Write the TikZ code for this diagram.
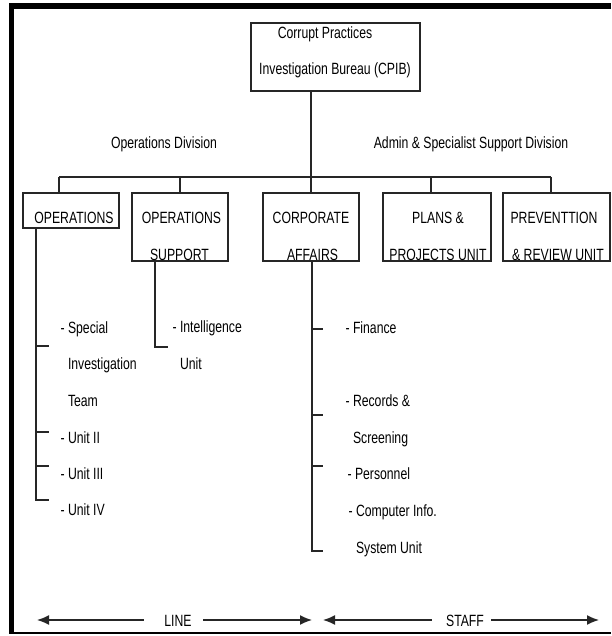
\documentclass[tikz,border=0pt]{standalone}
\usepackage{fontspec}
\setmainfont{Liberation Sans}[FakeStretch=0.75]
\usetikzlibrary{arrows.meta,positioning}

\tikzset{
  orgbox/.style={draw, inner sep=0pt},
  txt/.style={anchor=base, inner sep=0pt, font=\fontsize{16.3}{19}\selectfont},
  item/.style={anchor=base west, inner sep=0pt, align=left,
    font=\fontsize{16.3}{36.5}\selectfont},
  span/.style={line width=1.5pt, -{Latex[length=12pt,width=10pt]}}
}

\begin{document}
\begin{tikzpicture}[x=1pt, y=-1pt, line width=1.1pt, draw=black!85]
            \useasboundingbox (0,0) rectangle (611,636);

            % Frame
            \fill (9,3) rectangle (611,9);
            \fill (9,3) rectangle (14,634);
            \fill (9,632) rectangle (611,634);

            % Boxes
            \node[orgbox, minimum width=169pt, minimum height=68pt] (cpib) at (335.5,57) {};
            \node[orgbox, minimum width=96pt, minimum height=35pt] (ops) at (71,210.5) {};
            \node[orgbox, minimum width=96pt, minimum height=68pt] (opsup) at (180,227) {};
            \node[orgbox, minimum width=96pt, minimum height=68pt] (corp) at (311,227) {};
            \node[orgbox, minimum width=108pt, minimum height=68pt] (plans) at (437,227) {};
            \node[orgbox, minimum width=107pt, minimum height=68pt] (prev) at (556.5,227) {};

            % Box texts
            \node[txt] (cpibA) at (325,39) {Corrupt Practices};
            \node[txt] (cpibB) at (335,75) {Investigation Bureau (CPIB)};
            \node[txt] (opsA) at (74,223) {OPERATIONS};
            \node[txt] (opsupA) at (181.5,223) {OPERATIONS};
            \node[txt] (opsupB) at (179.5,260) {SUPPORT};
            \node[txt] (corpA) at (311,223) {CORPORATE};
            \node[txt] (corpB) at (312.5,260) {AFFAIRS};
            \node[txt] (plansA) at (438,223) {PLANS \&};
            \node[txt] (plansB) at (438,260) {PROJECTS UNIT};
            \node[txt] (prevA) at (554,223) {PREVENTTION};
            \node[txt] (prevB) at (558,260) {\& REVIEW UNIT};

            % Division labels
            \node[txt] (opdiv) at (164,149) {Operations Division};
            \node[txt] (addiv) at (471,149) {Admin \& Specialist Support Division};

            % Sub units (base = last line)
            \node[item] (sit) at (60,406) {- Special\\\hphantom{- }Investigation\\\hphantom{- }Team};
            \node[item] (u2) at (60,443) {- Unit II};
            \node[item] (u3) at (60,479) {- Unit III};
            \node[item] (u4) at (60,515) {- Unit IV};
            \node[item] (intel) at (172,369) {- Intelligence\\\hphantom{- }Unit};
            \node[item] (fin) at (345,333) {- Finance};
            \node[item] (rec) at (345,443) {- Records \&\\\hphantom{- }Screening};
            \node[item] (pers) at (347,479) {- Personnel};
            \node[item] (comp) at (348,553) {- Computer Info.\\\hphantom{- }System Unit};

            % Edges
            \coordinate (barL) at (59,177);
            \coordinate (barR) at (551,177);
            \coordinate (plansT) at (431,177);
            \draw (cpib.south -| corp.north) -- (corp.north);
            \draw (barL) -- (barR);
            \draw (barL) -- (barL |- ops.north);
            \draw (opsup.north |- barL) -- (opsup.north);
            \draw (plansT) -- (plansT |- plans.north);
            \draw (barR) -- (barR |- prev.north);

            % Branches
            \coordinate (opsEnd) at (36,500);
            \coordinate (intelEnd) at (155,347);
            \coordinate (corpEnd) at (312,551);
            \draw (opsEnd |- ops.south) -- (opsEnd) -- ++(13,0);
            \foreach \y in {346,432,466}
              \draw (36,\y) -- ++(13,0);
            \draw (intelEnd |- opsup.south) -- (intelEnd) -- ++(13,0);
            \draw (corpEnd |- corp.south) -- (corpEnd) -- ++(11,0);
            \foreach \y in {329,415,466}
              \draw (312,\y) -- ++(11,0);

            % Line and staff
            \node[txt] (lineLbl) at (178,626) {LINE};
            \node[txt] (staffLbl) at (465,626) {STAFF};
            \coordinate (lineL) at (37,620);
            \coordinate (lineR) at (312,620);
            \coordinate (staffL) at (323,620);
            \coordinate (staffR) at (599,620);
            \draw[span] (lineLbl.west |- lineL) ++(-20,0) -- (lineL);
            \draw[span] (lineLbl.east |- lineR) ++(11,0) -- (lineR);
            \draw[span] (staffLbl.west |- staffL) ++(-14,0) -- (staffL);
            \draw[span] (staffLbl.east |- staffR) ++(7,0) -- (staffR);
        \end{tikzpicture}
\end{document}
